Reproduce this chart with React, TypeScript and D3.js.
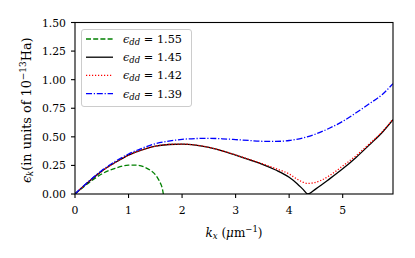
import React from "react";
import * as d3 from "d3";

const kGreen = [0, 0.25, 0.5, 0.75, 1.0, 1.15, 1.3, 1.4, 1.5, 1.55, 1.6, 1.63, 1.65];
const eGreen = [0, 0.095, 0.175, 0.225, 0.252, 0.252, 0.235, 0.21, 0.17, 0.135, 0.09, 0.05, 0];

const kBlack = [0, 0.25, 0.5, 0.75, 1.0, 1.25, 1.5, 1.75, 2.0, 2.25, 2.5, 2.75, 3.0, 3.25, 3.5, 3.75, 4.0, 4.15, 4.25, 4.35, 4.5, 4.75, 5.0, 5.25, 5.5, 5.75, 5.94];
const eBlack = [0, 0.105, 0.2, 0.275, 0.34, 0.385, 0.418, 0.433, 0.437, 0.428, 0.408, 0.378, 0.34, 0.3, 0.26, 0.21, 0.146, 0.09, 0.045, 0, 0.045, 0.13, 0.22, 0.32, 0.43, 0.545, 0.65];

const kRed = [0, 0.25, 0.5, 0.75, 1.0, 1.25, 1.5, 1.75, 2.0, 2.25, 2.5, 2.75, 3.0, 3.25, 3.5, 3.75, 4.0, 4.15, 4.25, 4.35, 4.45, 4.6, 4.75, 5.0, 5.25, 5.5, 5.75, 5.94];
const eRed = [0, 0.105, 0.2, 0.275, 0.34, 0.385, 0.418, 0.433, 0.437, 0.428, 0.408, 0.378, 0.342, 0.303, 0.265, 0.222, 0.175, 0.13, 0.105, 0.093, 0.097, 0.12, 0.16, 0.245, 0.335, 0.44, 0.55, 0.655];

const kBlue = [0, 0.25, 0.5, 0.75, 1.0, 1.25, 1.5, 1.75, 2.0, 2.25, 2.5, 2.75, 3.0, 3.25, 3.5, 3.75, 4.0, 4.25, 4.5, 4.75, 5.0, 5.25, 5.5, 5.75, 5.94];
const eBlue = [0, 0.108, 0.205, 0.285, 0.35, 0.4, 0.44, 0.462, 0.478, 0.485, 0.487, 0.483, 0.476, 0.468, 0.461, 0.46, 0.468, 0.49, 0.525, 0.575, 0.635, 0.71, 0.79, 0.875, 0.965];

const legendValues = ["1.55", "1.45", "1.42", "1.39"];
const xTicks = [0, 1, 2, 3, 4, 5];
const yTicks = [0, 0.25, 0.5, 0.75, 1.0, 1.25, 1.5];

const W = 415, H = 258;
const L = 75, R = 393, T = 22.5, B = 194;
const FONT = "'DejaVu Serif', serif";
const FS = 10.8;
const LFS = 12;
const SUB = 8.5;

export default function App() {
  const x = d3.scaleLinear().domain([0, 5.94]).range([L, R]);
  const y = d3.scaleLinear().domain([0, 1.5]).range([B, T]);
  const line = (ks: number[], es: number[]) =>
    d3.line<number>().x((_, i) => x(ks[i])).y((d) => y(d)).curve(d3.curveMonotoneX)(es) || "";

  const series = [
    { d: line(kGreen, eGreen), color: "#008000", dash: "5,2.2" },
    { d: line(kBlack, eBlack), color: "#000000", dash: "" },
    { d: line(kRed, eRed), color: "#ff0000", dash: "1.2,1.8" },
    { d: line(kBlue, eBlue), color: "#0000ff", dash: "6,1.8,1.2,1.8" },
  ];

  return (
    <svg width={W} height={H} style={{ position: "absolute", left: 0, top: 0 }} fontFamily={FONT}>
      <defs>
        <clipPath id="plot">
          <rect x={L} y={T} width={R - L} height={B - T} />
        </clipPath>
      </defs>
      <rect x={0} y={0} width={W} height={H} fill="#fff" />
      <g clipPath="url(#plot)">
        {series.map((s, i) => (
          <path key={i} d={s.d} fill="none" stroke={s.color} strokeWidth={1.3} strokeDasharray={s.dash || undefined} />
        ))}
      </g>
      <rect x={L} y={T} width={R - L} height={B - T} fill="none" stroke="#000" strokeWidth={1.1} />
      {xTicks.map((t) => (
        <g key={t}>
          <line x1={x(t)} x2={x(t)} y1={B} y2={B + 4} stroke="#000" strokeWidth={1.1} />
          <text x={x(t)} y={213.5} fontSize={FS} textAnchor="middle">{t}</text>
        </g>
      ))}
      {yTicks.map((t) => (
        <g key={t}>
          <line x1={L - 4} x2={L} y1={y(t)} y2={y(t)} stroke="#000" strokeWidth={1.1} />
          <text x={L - 9} y={y(t) + 4} fontSize={FS} textAnchor="end">{t.toFixed(2)}</text>
        </g>
      ))}
      <text x={(L + R) / 2} y={237} fontSize={LFS} textAnchor="middle">
        <tspan fontStyle="italic">k</tspan>
        <tspan fontStyle="italic" fontSize={SUB} dy={2}>x</tspan>
        <tspan dy={-2}> (</tspan>
        <tspan fontStyle="italic">μ</tspan>
        <tspan>m</tspan>
        <tspan fontSize={SUB} dy={-5}>−1</tspan>
        <tspan dy={5}>)</tspan>
      </text>
      <text transform={`translate(31, ${(T + B) / 2 + 2}) rotate(-90)`} fontSize={12.8} textAnchor="middle">
        <tspan fontStyle="italic">ϵ</tspan>
        <tspan fontStyle="italic" fontSize={SUB} dy={2}>k</tspan>
        <tspan dy={-2}>(in units of 10</tspan>
        <tspan fontSize={SUB + 0.5} dy={-5}>−13</tspan>
        <tspan dy={5}>Ha)</tspan>
      </text>
      <rect x={81.5} y={29.5} width={110} height={77} rx={2.5} fill="#fff" fillOpacity={0.8} stroke="#cccccc" strokeWidth={1} />
      {series.map((s, i) => {
        const yy = 39 + i * 18.2;
        return (
          <g key={i}>
            <line x1={86} x2={113} y1={yy} y2={yy} stroke={s.color} strokeWidth={1.3} strokeDasharray={s.dash || undefined} />
            <text x={123} y={yy + 4} fontSize={11.3}>
              <tspan fontStyle="italic">ϵ</tspan>
              <tspan fontStyle="italic" fontSize={SUB} dy={2}>dd</tspan>
              <tspan dy={-2}>{" = "}{legendValues[i]}</tspan>
            </text>
          </g>
        );
      })}
    </svg>
  );
}
